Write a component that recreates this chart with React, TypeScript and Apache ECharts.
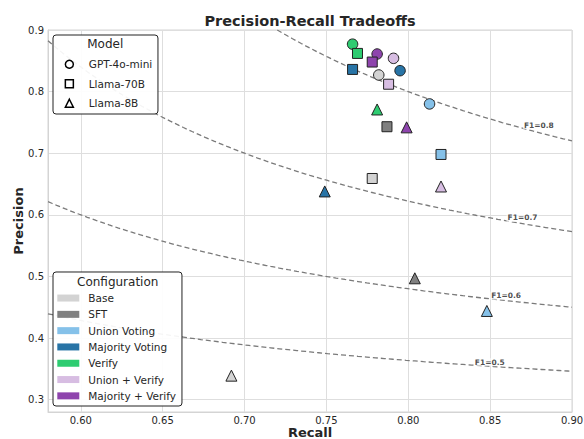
import { useEffect, useRef } from "react";
import * as echarts from "echarts";

// ---- data ----
const configurations = [
  "Base",
  "SFT",
  "Union Voting",
  "Majority Voting",
  "Verify",
  "Union + Verify",
  "Majority + Verify",
];
const configColors = ["#d3d3d3", "#808080", "#85c1e9", "#2874a6", "#2ecc71", "#d7bde2", "#8e44ad"];

const models = ["GPT-4o-mini", "Llama-70B", "Llama-8B"];
const modelSymbols = ["circle", "rect", "triangle"];

// values in configuration order (null = not evaluated)
const gptRecall = [0.782, null, 0.813, 0.795, 0.766, 0.791, 0.781];
const gptPrecision = [0.827, null, 0.78, 0.834, 0.877, 0.854, 0.861];
const llama70Recall = [0.778, 0.787, 0.82, 0.766, 0.769, 0.788, 0.778];
const llama70Precision = [0.659, 0.743, 0.698, 0.836, 0.862, 0.812, 0.848];
const llama8Recall = [0.692, 0.804, 0.848, 0.749, 0.781, 0.82, 0.799];
const llama8Precision = [0.339, 0.497, 0.444, 0.638, 0.771, 0.646, 0.742];

// iso-F1 reference curves
const f1Levels = [0.5, 0.6, 0.7, 0.8];
const f1LabelRecall = [0.84, 0.85, 0.86, 0.87];

const xRange = [0.58, 0.9];
const yRange = [0.28, 0.9];

const FONT = "DejaVu Sans";
const TEXT = "#262626";

export default function App() {
  const ref = useRef<HTMLDivElement>(null);

  useEffect(() => {
    if (!ref.current) return;
    const chart = echarts.init(ref.current, null, { renderer: "svg" });

    const recallByModel = [gptRecall, llama70Recall, llama8Recall];
    const precisionByModel = [gptPrecision, llama70Precision, llama8Precision];
    const symbolSizes = [10.5, 10, 11];

    const precisionOnF1 = (f: number, r: number) => (f * r) / (2 * r - f);

    const f1Series = f1Levels.map((f) => {
      const pts: number[][] = [];
      const n = 120;
      for (let k = 0; k <= n; k++) {
        const r = xRange[0] + ((xRange[1] - xRange[0]) * k) / n;
        pts.push([r, precisionOnF1(f, r)]);
      }
      return {
        type: "line",
        name: "F1=" + f,
        data: pts,
        symbol: "none",
        silent: true,
        clip: true,
        z: 1,
        lineStyle: { color: "#7a7a7a", width: 1.3, type: [5, 3] },
      };
    });

    const f1LabelSeries = {
      type: "scatter",
      name: "F1 labels",
      silent: true,
      z: 2,
      symbolSize: 0.1,
      itemStyle: { color: "transparent" },
      data: f1Levels.map((f, i) => ({
        name: "F1=" + f,
        value: [f1LabelRecall[i], precisionOnF1(f, f1LabelRecall[i])],
      })),
      label: {
        show: true,
        position: "right",
        distance: 0,
        offset: [0, -3],
        formatter: "{b}",
        fontFamily: FONT,
        fontSize: 7.5,
        fontWeight: "bold",
        color: "#222",
        backgroundColor: "rgba(255,255,255,0.75)",
        padding: [0, 1],
      },
    };

    const configSeries = configurations.map((name, i) => ({
      type: "scatter",
      name,
      z: 3,
      itemStyle: { color: configColors[i], borderColor: "#222", borderWidth: 1, opacity: 1 },
      data: models
        .map((_, m) =>
          recallByModel[m][i] == null
            ? null
            : {
                value: [recallByModel[m][i], precisionByModel[m][i]],
                symbol: modelSymbols[m],
                symbolSize: symbolSizes[m],
              }
        )
        .filter((d) => d !== null),
    }));

    const modelSeries = models.map((name, m) => ({
      type: "scatter",
      name,
      symbol: modelSymbols[m],
      data: [],
      itemStyle: { color: "#fff", borderColor: "#000", borderWidth: 1.5, opacity: 1 },
    }));

    const axisCommon = {
      type: "value",
      axisLine: { show: true, lineStyle: { color: "#d4d4d4", width: 1 } },
      axisTick: { show: false },
      splitLine: { show: true, lineStyle: { color: "#dedede", width: 1 } },
      nameMoveOverlap: false,
      nameTextStyle: { fontFamily: FONT, fontSize: 13, fontWeight: "bold", color: TEXT },
    };

    chart.setOption({
      animation: false,
      backgroundColor: "#fff",
      title: {
        text: "Precision-Recall Tradeoffs",
        left: 310,
        top: 13,
        padding: 0,
        textAlign: "center",
        textStyle: { fontFamily: FONT, fontSize: 14.5, fontWeight: "bold", color: TEXT },
      },
      grid: {
        left: 48,
        right: 12,
        top: 30,
        bottom: 27,
        show: true,
        borderColor: "#d4d4d4",
        borderWidth: 1,
        backgroundColor: "transparent",
        outerBoundsMode: "none",
        containLabel: false,
      },
      xAxis: {
        ...axisCommon,
        min: xRange[0],
        max: xRange[1],
        minInterval: 0.05,
        maxInterval: 0.05,
        name: "Recall",
        nameLocation: "middle",
        nameGap: 14,
        axisLabel: {
          showMinLabel: false,
          margin: 3,
          fontFamily: FONT,
          fontSize: 10,
          color: TEXT,
          formatter: (v: number) => v.toFixed(2),
        },
      },
      yAxis: {
        ...axisCommon,
        min: yRange[0],
        max: yRange[1],
        minInterval: 0.1,
        maxInterval: 0.1,
        name: "Precision",
        nameLocation: "middle",
        nameGap: 23,
        axisLabel: {
          showMinLabel: false,
          margin: 4,
          fontFamily: FONT,
          fontSize: 10,
          color: TEXT,
          formatter: (v: number) => v.toFixed(1),
        },
      },
      legend: [
        {
          orient: "vertical",
          left: 53,
          top: 35,
          padding: [19.5, 5.7, 1, 11.6],
          itemWidth: 8,
          itemHeight: 8,
          itemGap: 0,
          selectedMode: false,
          backgroundColor: "rgba(255,255,255,0.92)",
          borderColor: "#222",
          borderWidth: 1,
          borderRadius: 3,
          data: models.map((name, m) => ({
            name,
            icon: modelSymbols[m],
            itemStyle: { color: "#fff", borderColor: "#000", borderWidth: 1.5, opacity: 1 },
          })),
          textStyle: {
            fontFamily: FONT,
            fontSize: 10.5,
            color: TEXT,
            lineHeight: 19.5,
            padding: [0, 0, 0, 10.4],
          },
          z: 10,
        },
        {
          orient: "vertical",
          left: 53,
          top: 272,
          padding: [17.9, 6, 2, 4.3],
          itemWidth: 22,
          itemHeight: 7,
          itemGap: 0,
          selectedMode: false,
          backgroundColor: "rgba(255,255,255,0.92)",
          borderColor: "#222",
          borderWidth: 1,
          borderRadius: 3,
          data: configurations.map((name, i) => ({
            name,
            icon: "rect",
            itemStyle: { color: configColors[i], borderWidth: 0, opacity: 1 },
          })),
          textStyle: {
            fontFamily: FONT,
            fontSize: 10.5,
            color: TEXT,
            lineHeight: 16.3,
            padding: [0, 0, 0, 4],
          },
          z: 10,
        },
      ],
      graphic: [
        {
          type: "text",
          x: 105.2,
          y: 44.3,
          z: 100,
          style: {
            text: "Model",
            font: `12px '${FONT}'`,
            fill: TEXT,
            align: "center",
            verticalAlign: "middle",
          },
        },
        {
          type: "text",
          x: 117.7,
          y: 281.7,
          z: 100,
          style: {
            text: "Configuration",
            font: `12px '${FONT}'`,
            fill: TEXT,
            align: "center",
            verticalAlign: "middle",
          },
        },
      ],
      series: [...f1Series, f1LabelSeries, ...configSeries, ...modelSeries],
    });

    return () => chart.dispose();
  }, []);

  return (
    <div
      ref={ref}
      style={{ position: "fixed", left: 0, top: 0, width: 584, height: 439 }}
    />
  );
}
